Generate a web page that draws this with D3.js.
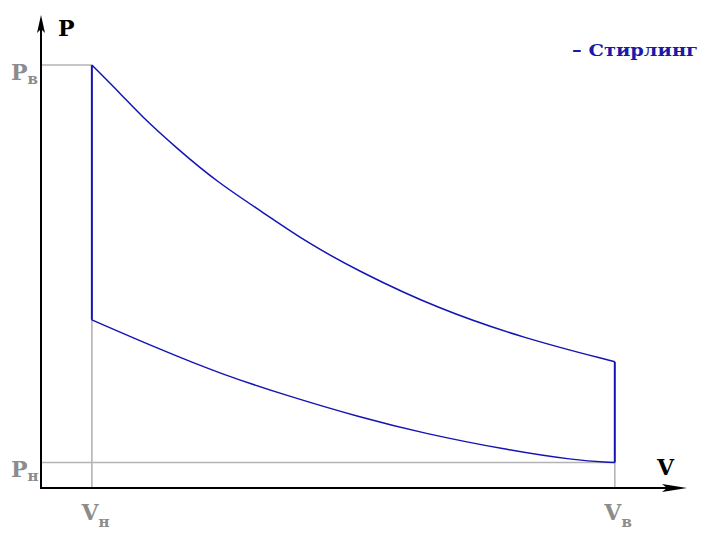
<!DOCTYPE html>
<html><head><meta charset="utf-8">
<script src="https://cdn.jsdelivr.net/npm/d3@7"></script>
<style>html,body{margin:0;padding:0;background:#fff;}svg{display:block;}</style>
</head><body>
<svg id="c" width="720" height="540"></svg>
<script>
// Data (arbitrary units: V and P in 0..100)
const upperV = [7.9, 12.8, 15.4, 21.1, 27.5, 34.5, 41.3, 49.5, 61.4, 74.9, 89.1];
const upperP = [89.8, 83.1, 79.2, 72.1, 64.8, 58.5, 52.1, 45.9, 38.2, 31.8, 26.8];
const lowerV = [7.9, 18.0, 28.3, 38.7, 49.3, 59.4, 72.3, 82.7, 89.1];
const lowerP = [35.7, 29.7, 24.0, 19.4, 15.1, 11.6, 8.1, 5.9, 5.4];
const xTicks = [7.9, 89.1];
const xTickMain = ["V", "V"];
const xTickSub = ["н", "в"];
const yTicks = [89.8, 5.4];
const yTickMain = ["P", "P"];
const yTickSub = ["в", "н"];
const seriesName = "Стирлинг";

const svg = d3.select("#c");
const x = d3.scaleLinear().domain([0, 100]).range([41, 685]);
const y = d3.scaleLinear().domain([0, 100]).range([488, 17]);

const blue = "#1414b4";
const gray = "#b4b4b4";
const font = "'DejaVu Serif','Liberation Serif',serif";

// gray guide lines
const g = svg.append("g").attr("stroke", gray).attr("stroke-width", 1.6).attr("fill", "none");
g.append("line").attr("x1", x(0)).attr("x2", x(xTicks[0])).attr("y1", y(yTicks[0])).attr("y2", y(yTicks[0]));
g.append("line").attr("x1", x(0)).attr("x2", x(xTicks[1])).attr("y1", y(yTicks[1])).attr("y2", y(yTicks[1]));
g.append("line").attr("x1", x(xTicks[0])).attr("x2", x(xTicks[0])).attr("y1", y(0)).attr("y2", y(lowerP[0]));
g.append("line").attr("x1", x(xTicks[1])).attr("x2", x(xTicks[1])).attr("y1", y(0)).attr("y2", y(lowerP[lowerP.length-1]));

// cycle
const up = upperV.map((v, i) => [v, upperP[i]]);
const lo = lowerV.map((v, i) => [v, lowerP[i]]);
const line = d3.line().x(d => x(d[0])).y(d => y(d[1])).curve(d3.curveBasis);
svg.append("path").attr("d", line(up)).attr("fill", "none").attr("stroke", blue).attr("stroke-width", 1.5);
svg.append("path").attr("d", line(lo)).attr("fill", "none").attr("stroke", blue).attr("stroke-width", 1.5);
svg.append("line").attr("x1", x(upperV[0])).attr("x2", x(lowerV[0])).attr("y1", y(upperP[0])).attr("y2", y(lowerP[0]))
  .attr("stroke", blue).attr("stroke-width", 2);
svg.append("line").attr("x1", x(upperV[upperV.length-1])).attr("x2", x(lowerV[lowerV.length-1]))
  .attr("y1", y(upperP[upperP.length-1])).attr("y2", y(lowerP[lowerP.length-1]))
  .attr("stroke", blue).attr("stroke-width", 2);

// axes lines with arrows
svg.append("line").attr("x1", x(0)).attr("x2", x(0)).attr("y1", y(0) + 1).attr("y2", 24).attr("stroke", "#000").attr("stroke-width", 2);
svg.append("line").attr("x1", x(0) - 1).attr("x2", 680).attr("y1", y(0)).attr("y2", y(0)).attr("stroke", "#000").attr("stroke-width", 2);
svg.append("path").attr("d", `M${x(0)},15 L${x(0)-4},33 L${x(0)},29 L${x(0)+4},33 Z`).attr("fill", "#000");
svg.append("path").attr("d", `M687,${y(0)} L662,${y(0)-4} L667,${y(0)} L662,${y(0)+4} Z`).attr("fill", "#000");

// axis tick labels via d3 axes
const xa = svg.append("g").attr("transform", `translate(0,${y(0)})`)
  .call(d3.axisBottom(x).tickValues(xTicks).tickSize(0).tickPadding(0).tickFormat(""));
xa.select(".domain").remove();
xa.selectAll(".tick text").each(function(d, i) {
  const t = d3.select(this).attr("x", -11).attr("y", 32).attr("dy", null).attr("text-anchor", "start")
    .attr("fill", "#8c8c8c").attr("font-family", font).attr("font-weight", "bold").attr("font-size", 22);
  t.append("tspan").text(xTickMain[i]);
  t.append("tspan").text(xTickSub[i]).attr("font-size", 15).attr("dx", 0).attr("dy", 7);
});
const ya = svg.append("g").attr("transform", `translate(${x(0)},0)`)
  .call(d3.axisLeft(y).tickValues(yTicks).tickSize(0).tickPadding(0).tickFormat(""));
ya.select(".domain").remove();
ya.selectAll(".tick text").each(function(d, i) {
  const t = d3.select(this).attr("x", -30).attr("y", 14).attr("dy", null).attr("text-anchor", "start")
    .attr("fill", "#8c8c8c").attr("font-family", font).attr("font-weight", "bold").attr("font-size", 22);
  t.append("tspan").text(yTickMain[i]);
  t.append("tspan").text(yTickSub[i]).attr("font-size", 15).attr("dx", 0).attr("dy", 4);
});

// axis titles
svg.append("text").attr("x", 58).attr("y", 36).text("P")
  .attr("font-family", font).attr("font-weight", "bold").attr("font-size", 22).attr("fill", "#000");
svg.append("text").attr("x", 657).attr("y", 475).text("V")
  .attr("font-family", font).attr("font-weight", "bold").attr("font-size", 22).attr("fill", "#000");

// legend
svg.append("text").attr("x", 572).attr("y", 56).attr("text-anchor", "start")
  .attr("font-family", font).attr("font-weight", "bold").attr("font-size", 17).attr("fill", "#1a1aa8")
  .attr("textLength", 126).attr("lengthAdjust", "spacingAndGlyphs")
  .text("– " + seriesName);
</script>
</body></html>
